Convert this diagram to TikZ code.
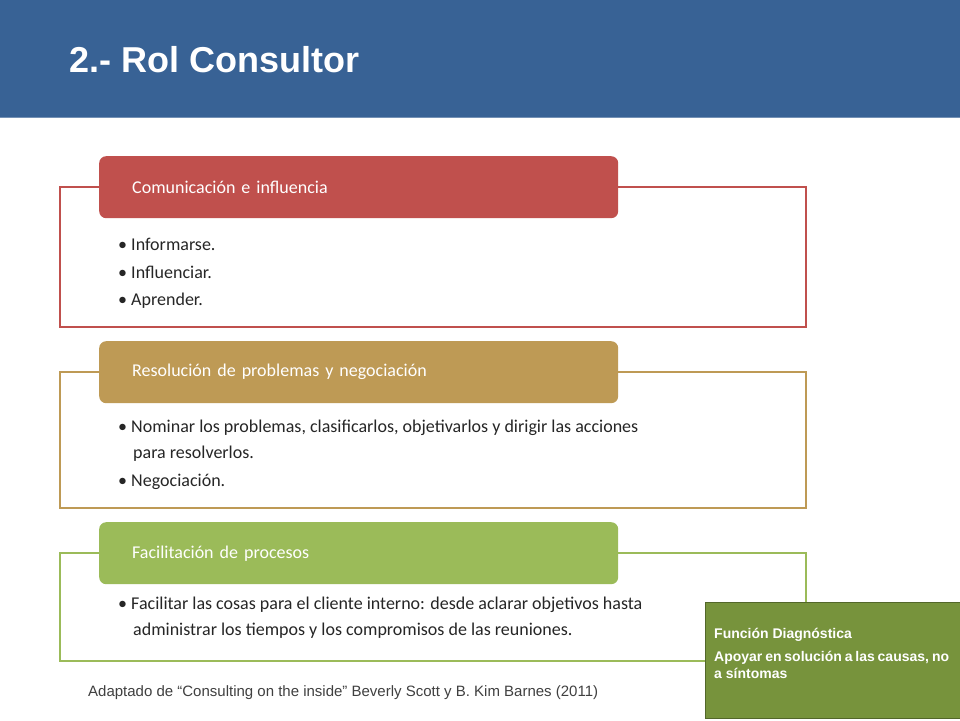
\documentclass[tikz,border=0pt]{standalone}
\usepackage{fontspec}
\setmainfont{Carlito}
\newfontfamily\arialf{Liberation Sans}
\definecolor{hdr}{HTML}{386295}
\definecolor{cred}{HTML}{C0504D}
\definecolor{cgold}{HTML}{BE9A55}
\definecolor{cgreen}{HTML}{9BBB59}
\definecolor{boxg}{HTML}{77933C}
\definecolor{txt}{HTML}{262626}
\begin{document}
\begin{tikzpicture}[x=1pt,y=-1pt,
  frame/.style={line width=2pt},
  tab/.style={rounded corners=7pt,minimum width=519pt,inner sep=0pt,anchor=north west,text width=495pt,align=left,minimum height=62pt,text=white,font=\fontsize{18}{20}\selectfont},
  bul/.style={anchor=west,text=txt,font=\fontsize{18}{26}\selectfont,inner sep=0pt,align=left}]
\useasboundingbox (0,0) rectangle (960,720);
\fill[white] (0,0) rectangle (960,720);
\fill[hdr] (0,0) rectangle (960,117);
\draw[hdr!70!white,line width=1pt] (0,117) -- (960,117);
\node[anchor=west,text=white,font=\arialf\bfseries\fontsize{36}{40}\selectfont] (title) at (66,60) {2.- Rol Consultor};
% red
\draw[frame,cred] (99,187) -- (60,187) -- (60,327) -- (806,327) -- (806,187) -- (618,187);
\node[tab,fill=cred] (t1) at (99,156) {\hspace*{21pt}Comunicación e influencia};
\node[bul] (b1) at (118,244) {• Informarse.};
\node[bul] (b2) at (118,272) {• Influenciar.};
\node[bul] (b3) at (118,301) {• Aprender.};
% gold
\draw[frame,cgold] (99,372) -- (60,372) -- (60,508) -- (806,508) -- (806,372) -- (618,372);
\node[tab,fill=cgold] (t2) at (99,341) {\hspace*{21pt}Resolución de problemas y negociación};
\node[bul,anchor=north west] (b4) at (118,420) {• Nominar los problemas, clasificarlos, objetivarlos y dirigir las acciones\\\hspace*{15pt}para resolverlos.};
\node[bul] (b5) at (118,482) {• Negociación.};
% green
\draw[frame,cgreen] (99,553) -- (60,553) -- (60,661) -- (806,661) -- (806,553) -- (618,553);
\node[tab,fill=cgreen] (t3) at (99,522) {\hspace*{21pt}Facilitación de procesos};
\node[bul,anchor=north west] (b6) at (118,597) {• Facilitar las cosas para el cliente interno: desde aclarar objetivos hasta\\\hspace*{15pt}administrar los tiempos y los compromisos de las reuniones.};
\node[anchor=west,text=black!75,font=\arialf\fontsize{15}{17}\selectfont,inner sep=0pt] (cap) at (88,693) {Adaptado de “Consulting on the inside” Beverly Scott y B. Kim Barnes (2011)};
% box
\draw[fill=boxg,draw=boxg!70!black,line width=1pt] (705,602) rectangle (960,718);
\node[anchor=north west,text=white,inner sep=0pt,text width=235pt,align=justify,font=\arialf\bfseries\fontsize{14}{17}\selectfont] (fd) at (714,628) {Función Diagnóstica\\[6pt]Apoyar en solución a las causas, no a síntomas};
\end{tikzpicture}
\end{document}
